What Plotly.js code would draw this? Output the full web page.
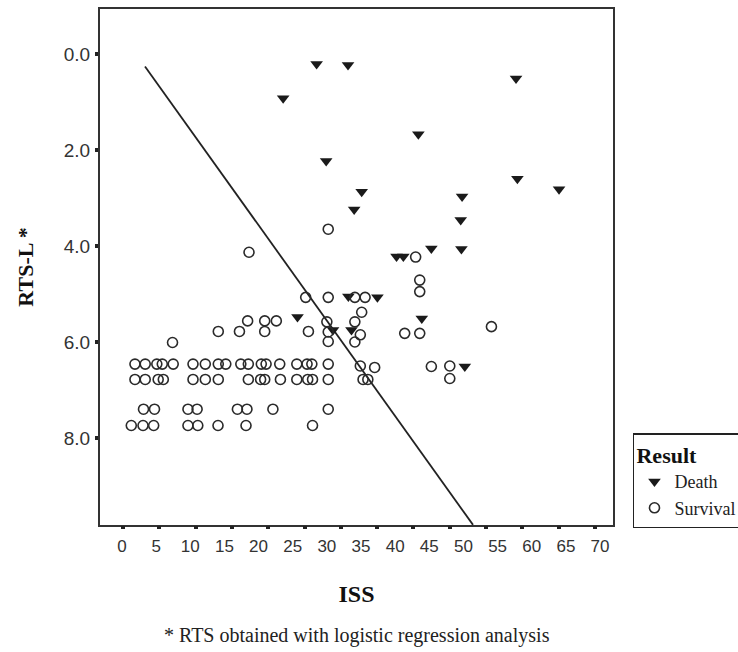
<!DOCTYPE html>
<html>
<head>
<meta charset="utf-8">
<script src="https://cdn.plot.ly/plotly-3.0.1.min.js"></script>
<style>
  html, body { margin: 0; padding: 0; background: #fff; }
  #chart { width: 738px; height: 652px; }
</style>
</head>
<body>
<div id="chart"></div>
<script>
// Death cases (ISS, RTS-L)
const deathISS = [28.5, 33.1, 23.6, 57.7, 43.4, 29.9, 57.9, 64.0, 49.8, 35.1, 34.0, 49.6,
                  45.3, 49.7, 40.2, 41.2, 25.7, 30.9, 33.6, 33.15, 37.4, 43.9, 50.2];
const deathRTS = [0.21, 0.23, 0.92, 0.51, 1.67, 2.23, 2.60, 2.82, 2.97, 2.87, 3.24, 3.46,
                  4.05, 4.06, 4.22, 4.22, 5.48, 5.75, 5.75, 5.05, 5.07, 5.51, 6.51];

// Survival cases (ISS, RTS-L)
const survISS = [
  // row ~6.46
  1.9, 3.4, 5.1, 5.9, 7.5, 10.4, 12.2, 14.1, 15.2, 17.4, 18.5, 20.4, 21.1, 23.1, 25.6, 27.1, 27.8, 30.2, 34.9, 37.0,
  // row ~6.78
  1.9, 3.4, 5.3, 6.05, 10.4, 12.2, 14.1, 18.5, 20.3, 20.9, 23.2, 25.6, 27.2, 27.9, 30.2, 35.3, 36.0,
  // row ~7.40
  3.15, 4.76, 9.66, 11.0, 16.9, 18.3, 22.1, 30.2,
  // row ~7.74
  1.36, 3.08, 4.64, 9.66, 11.1, 14.06, 18.16, 27.9,
  // others
  7.4, 14.1, 17.2, 18.4, 20.9, 20.9, 22.6, 26.9, 27.3, 30.2, 30.0, 30.2, 30.2,
  34.1, 35.6, 35.1, 34.1, 34.9, 34.1, 18.6, 30.2, 43.0, 43.6, 43.6, 41.4, 43.6,
  54.1, 45.3, 48.0, 48.0
];
const survRTS = [
  6.46, 6.46, 6.46, 6.46, 6.46, 6.46, 6.46, 6.46, 6.46, 6.46, 6.46, 6.46, 6.46, 6.46, 6.46, 6.46, 6.46, 6.46, 6.50, 6.53,
  6.78, 6.78, 6.78, 6.78, 6.78, 6.78, 6.78, 6.78, 6.78, 6.78, 6.78, 6.78, 6.78, 6.78, 6.78, 6.78, 6.78,
  7.40, 7.40, 7.40, 7.40, 7.40, 7.40, 7.40, 7.40,
  7.74, 7.74, 7.74, 7.74, 7.74, 7.74, 7.74, 7.74,
  6.01, 5.78, 5.78, 5.56, 5.56, 5.78, 5.56, 5.07, 5.78, 5.07, 5.58, 5.79, 5.99,
  5.07, 5.07, 5.38, 5.58, 5.85, 6.00, 4.13, 3.65, 4.23, 4.71, 4.95, 5.82, 5.82,
  5.68, 6.51, 6.50, 6.76
];

// Logistic regression separating line
const lineISS = [3.37, 51.4];
const lineRTS = [0.26, 9.81];

// Axis ticks
const xLabelVals = [0, 5, 10, 15, 20, 25, 30, 35, 40, 45, 50, 55, 60, 65, 70];
const xTickDots = [0, 1, 2, 3, 4, 5, 6, 7, 8, 9, 10, 11, 12, 13];
const yTickVals = [0, 2, 4, 6, 8];

const ink = '#222';
const serif = 'Liberation Serif, Times New Roman, serif';
const sans = 'Liberation Sans, Arial, sans-serif';

const traces = [
  {
    x: lineISS, y: lineRTS, type: 'scatter', mode: 'lines',
    line: { color: ink, width: 1.8 }, showlegend: false, hoverinfo: 'skip'
  },
  {
    x: deathISS, y: deathRTS, type: 'scatter', mode: 'markers', name: 'Death',
    marker: { symbol: 'triangle-down', size: 11, color: '#1a1a1a' }
  },
  {
    x: survISS, y: survRTS, type: 'scatter', mode: 'markers', name: 'Survival',
    marker: { symbol: 'circle-open', size: 10, color: '#2a2a2a', line: { width: 1.6, color: '#2a2a2a' } }
  },
  {
    x: [null], y: [null], xaxis: 'x2', type: 'scatter', mode: 'markers',
    showlegend: false, hoverinfo: 'skip'
  }
];

const layout = {
  width: 738, height: 652,
  margin: { l: 100, r: 125, t: 9, b: 127 },
  paper_bgcolor: '#fff', plot_bgcolor: '#fff',
  showlegend: true,
  xaxis: {
    range: [-3.22, 71.90],
    tickvals: xLabelVals,
    ticks: '',
    showgrid: false, zeroline: false,
    showline: true, mirror: true, linecolor: '#333', linewidth: 2,
    tickfont: { family: sans, size: 17, color: '#333' },
    ticklabelstandoff: 5,
    title: { text: '<b>ISS</b>', font: { family: serif, size: 24, color: '#111' }, standoff: 30 }
  },
  xaxis2: {
    overlaying: 'x', anchor: 'y', side: 'bottom',
    range: [-0.633, 13.496],
    tickvals: xTickDots,
    ticks: 'outside', ticklen: 3, tickwidth: 4, tickcolor: ink,
    showticklabels: false, showgrid: false, zeroline: false, showline: false
  },
  yaxis: {
    range: [9.8125, -0.9375],
    tickvals: yTickVals,
    tickformat: '.1f',
    ticks: 'outside', ticklen: 3, tickwidth: 4, tickcolor: ink,
    showgrid: false, zeroline: false,
    showline: true, mirror: true, linecolor: '#333', linewidth: 2,
    tickfont: { family: sans, size: 19, color: '#333' },
    ticklabelstandoff: 1,
    title: { text: '<b>RTS-L *</b>', font: { family: serif, size: 22, color: '#111' }, standoff: 24 }
  },
  legend: {
    xref: 'container', yref: 'container',
    x: 0.8577, xanchor: 'left', y: 0.19, yanchor: 'bottom',
    bgcolor: '#fff', bordercolor: ink, borderwidth: 1.5,
    font: { family: serif, size: 18, color: '#222' },
    title: { text: '<b>Result</b>', font: { family: serif, size: 22, color: '#111' } },
    traceorder: 'normal'
  },
  annotations: [
    {
      xref: 'paper', yref: 'paper', x: 0.501, y: -0.215,
      xanchor: 'center', yanchor: 'middle', showarrow: false,
      text: '* RTS obtained with logistic regression analysis',
      font: { family: serif, size: 20, color: '#222' }
    }
  ]
};

Plotly.newPlot('chart', traces, layout, { displayModeBar: false, staticPlot: true });
</script>
</body>
</html>
